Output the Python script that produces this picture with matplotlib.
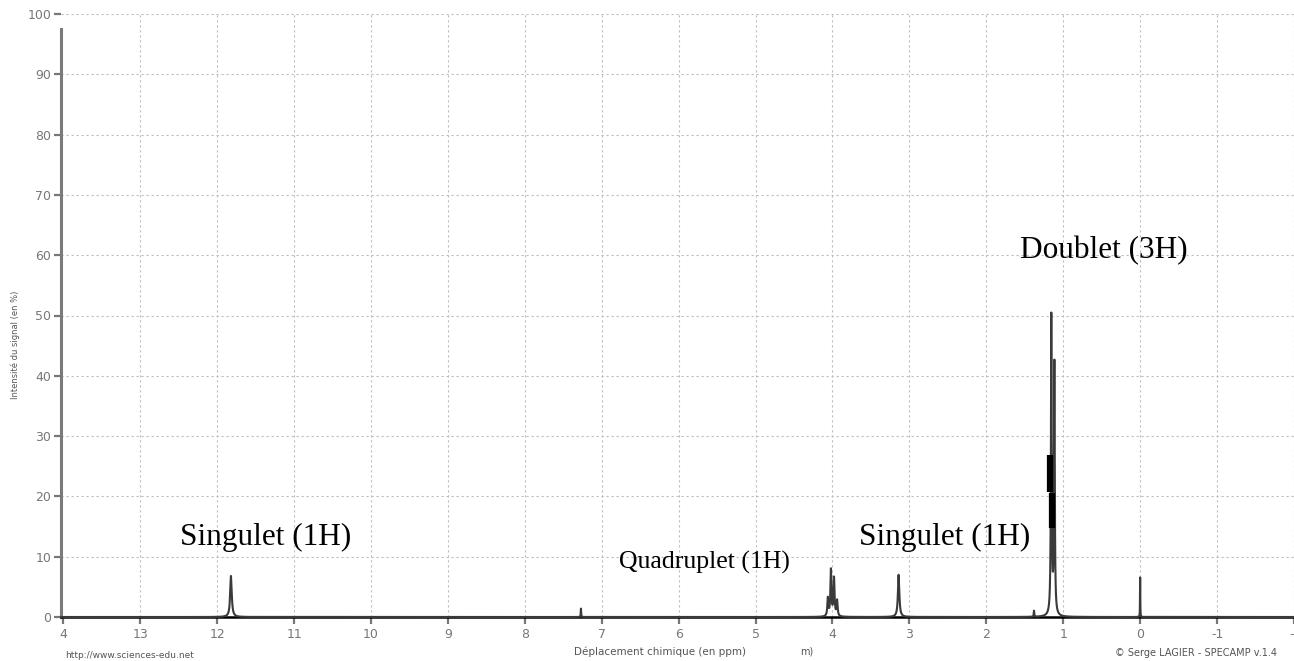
import numpy as np
import matplotlib
matplotlib.use("Agg")
import matplotlib.pyplot as plt

# ---- data ----
peak_shifts  = [11.82, 7.27, 4.06, 4.02, 3.98, 3.94, 3.14, 1.38, 1.155, 1.115, 0.00]
peak_heights = [6.8,   1.4,  3.0,  7.7,  6.3,  2.6,  7.0,  1.0,  49.6,  41.6,  6.6]
peak_hwhm    = [0.012, 0.003, 0.008, 0.008, 0.008, 0.008, 0.011, 0.004, 0.006, 0.006, 0.002]

integ_x   = [1.17, 1.15]
integ_lo  = [20.8, 14.8]
integ_hi  = [26.9, 20.6]

xticks = [14, 13, 12, 11, 10, 9, 8, 7, 6, 5, 4, 3, 2, 1, 0, -1, -2]
xtick_labels = ["4", "13", "12", "11", "10", "9", "8", "7", "6", "5", "4", "3", "2", "1", "0", "-1", "-"]
yticks = [0, 10, 20, 30, 40, 50, 60, 70, 80, 90, 100]

annotations = [
    ("Singulet (1H)", 12.48, 11.9, 22.5),
    ("Quadruplet (1H)", 6.78, 8.0, 18.5),
    ("Singulet (1H)", 3.66, 11.9, 22.5),
    ("Doublet (3H)", 1.56, 59.5, 22.5),
]

# ---- figure ----
W, H = 1294, 661
fig = plt.figure(figsize=(W / 100, H / 100), dpi=100)
ax = fig.add_axes([61 / W, (H - 617) / H, 1 - 61 / W, (617 - 14) / H])

ppm = np.linspace(-2.0, 14.03, 40001)
spec = np.zeros_like(ppm)
for s, h, g in zip(peak_shifts, peak_heights, peak_hwhm):
    spec += h * g**2 / ((ppm - s) ** 2 + g**2)

ax.set_xlim(14.03, -2.0)
ax.set_ylim(0, 100)

ax.set_xticks(xticks)
ax.set_xticklabels(xtick_labels)
ax.set_yticks(yticks)
lbls = ax.get_xticklabels()
lbls[-1].set_horizontalalignment("right")

grid_kw = dict(color="#bdbdbd", lw=0.8, ls=(0, (2, 2.5)), zorder=0)
for xv in xticks[1:]:
    ax.axvline(xv, **grid_kw)
for yv in yticks[1:]:
    ax.axhline(yv, **grid_kw)

ax.plot(ppm, spec, color="#3a3a3a", lw=1.5, clip_on=False, zorder=3)
ax.vlines(integ_x, integ_lo, integ_hi, color="black", lw=4.5, zorder=4)

for txt, x, y, fs in annotations:
    ax.text(x, y, txt, fontsize=fs, family="Liberation Serif", ha="left",
            va="baseline", color="black", zorder=5)

for sp in ["top", "right"]:
    ax.spines[sp].set_visible(False)
ax.spines["left"].set_color("#7a7a7a")
ax.spines["left"].set_linewidth(2.2)
ax.spines["left"].set_bounds(0, 97.5)
ax.spines["bottom"].set_color("black")
ax.spines["bottom"].set_linewidth(1.8)

ax.tick_params(axis="both", colors="#777777", labelcolor="#777777",
               labelsize=9, length=5, width=1.6, direction="out")
ax.tick_params(axis="x", pad=3)
ax.tick_params(axis="y", pad=2)

fig.text(15 / W, 1 - 345 / H, "Intensité du signal (en %)", rotation=90,
         fontsize=6, color="#555555", ha="center", va="center")
fig.text(65 / W, 1 - 655 / H, "http://www.sciences-edu.net", fontsize=6.5,
         color="#555555", ha="left", va="center")
fig.text(660 / W, 1 - 652 / H, "Déplacement chimique (en ppm)", fontsize=7.5,
         color="#555555", ha="center", va="center")
fig.text(800 / W, 1 - 652 / H, "m)", fontsize=7, color="#555555",
         ha="left", va="center")
fig.text(1115 / W, 1 - 653 / H, "© Serge LAGIER - SPECAMP v.1.4", fontsize=7,
         color="#555555", ha="left", va="center")

fig.savefig("out.png", dpi=100)
